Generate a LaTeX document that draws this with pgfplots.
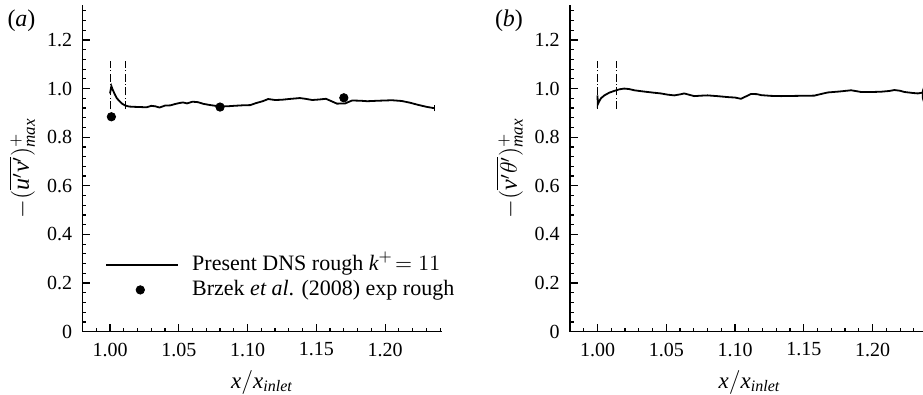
\documentclass[border=0pt]{standalone}
\usepackage{fontspec}
\setmainfont{Liberation Serif}
\usepackage{pgfplots}
\pgfplotsset{compat=1.18}
\pgfplotsset{
  legline/.style={legend image code/.code={\draw[##1] (0pt,0pt) -- (36pt,0pt); \path (42.5pt,0pt);}},
  legmark/.style={legend image code/.code={\draw[mark repeat=2,mark phase=2,##1] plot coordinates {(0pt,0pt) (17pt,0pt) (36pt,0pt)}; \path (42.5pt,0pt);}},
}

\pgfplotstableread{
x y
1.0000 0.980
1.0010 1.010
1.0020 0.995
1.0035 0.976
1.0050 0.960
1.0071 0.947
1.0090 0.937
1.0112 0.930
1.0140 0.926
1.0170 0.925
1.0220 0.924
1.0266 0.923
1.0300 0.929
1.0330 0.927
1.0360 0.922
1.0400 0.930
1.0440 0.931
1.0470 0.936
1.0500 0.940
1.0530 0.943
1.0560 0.939
1.0600 0.946
1.0640 0.944
1.0680 0.937
1.0730 0.932
1.0780 0.928
1.0850 0.927
1.0900 0.929
1.0960 0.931
1.1020 0.932
1.1060 0.940
1.1110 0.948
1.1150 0.957
1.1200 0.953
1.1250 0.954
1.1300 0.957
1.1380 0.961
1.1420 0.958
1.1470 0.953
1.1520 0.955
1.1570 0.958
1.1610 0.948
1.1650 0.938
1.1710 0.939
1.1760 0.951
1.1820 0.950
1.1870 0.948
1.1950 0.950
1.2050 0.952
1.2120 0.949
1.2180 0.942
1.2240 0.933
1.2300 0.925
1.2360 0.919
}\dnsa

\pgfplotstableread{
x y
1.0000 0.972
1.0002 0.935
1.0010 0.945
1.0025 0.960
1.0050 0.972
1.0085 0.983
1.0120 0.990
1.0160 0.997
1.0194 1.000
1.0230 0.998
1.0267 0.993
1.0320 0.989
1.0364 0.986
1.0410 0.983
1.0460 0.980
1.0510 0.975
1.0558 0.972
1.0600 0.976
1.0630 0.980
1.0670 0.974
1.0703 0.969
1.0760 0.971
1.0800 0.972
1.0870 0.969
1.0946 0.965
1.1000 0.963
1.1043 0.958
1.1080 0.968
1.1116 0.978
1.1160 0.977
1.1190 0.973
1.1260 0.970
1.1334 0.969
1.1450 0.970
1.1577 0.971
1.1620 0.977
1.1674 0.984
1.1760 0.988
1.1844 0.993
1.1916 0.986
1.2000 0.986
1.2060 0.987
1.2120 0.990
1.2159 0.994
1.2200 0.991
1.2231 0.986
1.2290 0.982
1.2329 0.980
1.2360 0.983
}\dnsb

\pgfplotstableread{
x y
1.001 0.884
1.080 0.924
1.170 0.962
}\expa

\begin{document}
\begin{tikzpicture}
\pgfplotsset{
  panel/.style={
    scale only axis, width=179.5pt, height=163.5pt,
    xmin=0.98, xmax=1.241, ymin=0, ymax=1.345,
    axis lines=left, axis line style={-, line width=0.8pt},
    tick align=inside,
    major tick length=4pt, minor tick length=2pt,
    every tick/.append style={line width=0.6pt, black},
    xtick={1.00,1.05,1.10,1.15,1.20},
    xticklabels={1.00,1.05,1.10,1.15,1.20},
    minor xtick={0.99,1.01,1.02,1.03,1.04,1.06,1.07,1.08,1.09,1.11,1.12,1.13,1.14,1.16,1.17,1.18,1.19,1.21,1.22,1.23,1.24},
    ytick={0,0.2,0.4,0.6,0.8,1.0,1.2},
    yticklabels={0,0.2,0.4,0.6,0.8,1.0,1.2},
    minor ytick={0.04,0.08,0.12,0.16,0.24,0.28,0.32,0.36,0.44,0.48,0.52,0.56,0.64,0.68,0.72,0.76,0.84,0.88,0.92,0.96,1.04,1.08,1.12,1.16,1.24,1.28,1.32},
    tick label style={font=\fontsize{10}{12}\selectfont},
    xticklabel style={yshift=-2pt},
    yticklabel style={xshift=-1.7pt},
    xlabel style={font=\fontsize{11.5}{13}\selectfont},
    xlabel={$\mbox{\itshape x}/\mbox{\itshape x}_{\mbox{\fontsize{8}{9}\selectfont\itshape inlet}}$},
    ylabel style={font=\fontsize{12}{14}\selectfont, at={(axis description cs:-0.1685,0.5)}, anchor=center},
    clip=false,
  },
  vline/.style={black, line width=0.4pt, dash pattern=on 4pt off 1.2pt on 0.5pt off 1.2pt, forget plot},
}
\begin{axis}[panel, at={(0,0)}, anchor=south west,
  ylabel={$-(\overline{\mbox{\itshape u}'\mbox{\itshape v}'})^{+}_{\mbox{\fontsize{8.5}{10}\selectfont\itshape max}}$},
  legend style={draw=none, fill=none, inner sep=0pt, at={(axis description cs:0.0627,0.166)}, anchor=west,
    font=\fontsize{11}{13}\selectfont, legend cell align=left, row sep=2pt,
    nodes={inner sep=0pt, text height=8pt, text depth=2.5pt}},
]
\node[anchor=north west, font=\fontsize{12}{14}\selectfont, inner sep=0pt] at (axis description cs:-0.21,0.984) {(\textit{a})};
\addplot[vline] coordinates {(1.000,0.915) (1.000,1.113)};
\addplot[vline] coordinates {(1.011,0.915) (1.011,1.113)};
\addplot[black, line width=0.9pt, legline] table {\dnsa};
\addlegendentry{Present DNS rough $\mbox{\itshape k}^{+}\!=11$}
\addplot[black, only marks, mark=*, mark size=2.1pt, legmark] table {\expa};
\addlegendentry{Brzek \textit{et al}. (2008) exp rough}
\addplot[black, line width=0.6pt, forget plot] coordinates {(1.2362,0.906) (1.2362,0.932)};
\end{axis}

\begin{axis}[panel, at={(243.75pt,0)}, anchor=south west,
  ylabel={$-(\overline{\mbox{\itshape v}'\theta'})^{+}_{\mbox{\fontsize{8.5}{10}\selectfont\itshape max}}$},
]
\node[anchor=north west, font=\fontsize{12}{14}\selectfont, inner sep=0pt] at (axis description cs:-0.21,0.984) {(\textit{b})};
\addplot[vline] coordinates {(1.000,0.915) (1.000,1.113)};
\addplot[vline] coordinates {(1.014,0.915) (1.014,1.113)};
\addplot[black, line width=0.9pt] table {\dnsb};
\addplot[black, line width=0.7pt, forget plot] coordinates {(1.2372,1.005) (1.2364,0.99) (1.2364,0.96) (1.2372,0.945)};
\end{axis}
\pgfresetboundingbox
\path[use as bounding box] (-41.25pt,-31.65pt) rectangle (420.25pt,165.85pt);
\end{tikzpicture}
\end{document}
